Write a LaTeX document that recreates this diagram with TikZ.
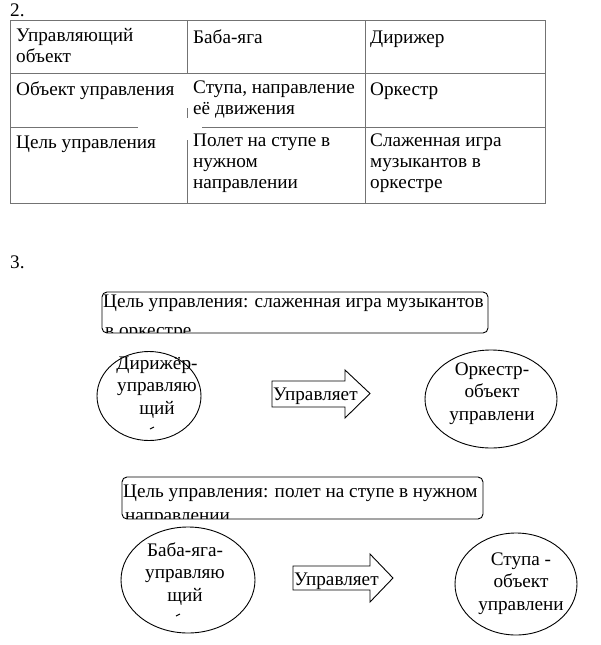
\documentclass[tikz,border=0pt]{standalone}
\usepackage{fontspec}
\setmainfont{Liberation Serif}
\usetikzlibrary{positioning, shapes.geometric}

\tikzset{
    cell/.style={anchor=north west, yshift=14.7pt, inner sep=0pt, align=left,
        font=\fontsize{19.2}{21}\selectfont, execute at begin node=\strut},
    ovaltext/.style={anchor=north, yshift=15.75pt, inner sep=0pt, align=center,
        font=\fontsize{19.2}{22.5}\selectfont, execute at begin node=\strut},
    grid/.style={draw=black!55, line width=0.8pt},
    goalbox/.style={draw, line width=0.9pt, rounded corners=5pt},
    oval/.style={draw, ellipse, line width=0.9pt, inner sep=0pt},
    blockarrow/.style={draw, line width=0.9pt, line join=miter},
}

\begin{document}
\begin{tikzpicture}[x=1pt, y=-1pt]
    \useasboundingbox (0,0) rectangle (600,645);
    % part 2: table
    \node[cell] (num2) at (10,16) {2.};
    \draw[grid] (10,20) rectangle (545,203);
    \draw[grid] (10,73) -- (545,73);
    \draw[grid] (10,127) -- (138,127) (202,127) -- (545,127);
    \draw[grid] (187,20) -- (187,73) (187,108) -- (187,118) (187,140) -- (187,203);
    \draw[grid] (365,20) -- (365,203);
    \node[cell] (c11) at (16,43) {Управляющий\\объект};
    \node[cell] (c12) at (193,43) {Баба-яга};
    \node[cell] (c13) at (370,43) {Дирижер};
    \node[cell] (c21) at (16,95) {Объект управления};
    \node[cell] (c22) at (193,95) {Ступа, направление\\её движения};
    \node[cell] (c23) at (370,95) {Оркестр};
    \node[cell] (c31) at (16,148) {Цель управления};
    \node[cell] (c32) at (193,148) {Полет на ступе в\\нужном\\направлении};
    \node[cell] (c33) at (370,148) {Слаженная игра\\музыкантов в\\оркестре};
    % part 3: schemes
    \node[cell] (num3) at (10,268) {3.};
    % conductor
    \draw[goalbox] (102,292) rectangle (488,333);
    \begin{scope}
        \clip (103,293) rectangle (487,332);
        \node[cell] (goal1) at (103,307) {Цель управления: слаженная игра музыкантов};
        \node[cell] (goal1b) at (105,336) {в оркестре};
    \end{scope}
    \node[oval, minimum width=104, minimum height=89] (dir) at (149,396) {};
    \node[ovaltext] (dirtext) at (157,372) {Дирижёр-\\управляю\\щий};
    \draw[line width=1.1pt] (150,429) -- (154,427);
    \draw[blockarrow] (272,381) -- (345,381) -- (345,370) -- (370,393.5) -- (345,418) -- (345,407) -- (272,407) -- cycle;
    \node[cell] (ctl1) at (273,400) {Управляет};
    \node[oval, minimum width=132, minimum height=98] (orch) at (491,399) {};
    \node[ovaltext] (orchtext) at (492,378) {Оркестр-\\объект\\управлени};
    % baba yaga
    \draw[goalbox] (122,477) rectangle (483,519);
    \begin{scope}
        \clip (123,478) rectangle (482,518);
        \node[cell] (goal2) at (123,497) {Цель управления: полет на ступе в нужном};
        \node[cell] (goal2b) at (125,521) {направлении};
    \end{scope}
    \node[oval, minimum width=134, minimum height=106] (baba) at (188,580) {};
    \node[ovaltext] (babatext) at (185,558) {Баба-яга-\\управляю\\щий};
    \draw[line width=1.1pt] (176,616) -- (180,614);
    \draw[blockarrow] (293,566) -- (370,566) -- (370,554) -- (393,578) -- (370,602) -- (370,590) -- (293,590) -- cycle;
    \node[cell] (ctl2) at (294,585) {Управляет};
    \node[oval, minimum width=122, minimum height=102] (stupa) at (516,584) {};
    \node[ovaltext] (stupatext) at (521,568) {Ступа -\\объект\\управлени};
\end{tikzpicture}
\end{document}
